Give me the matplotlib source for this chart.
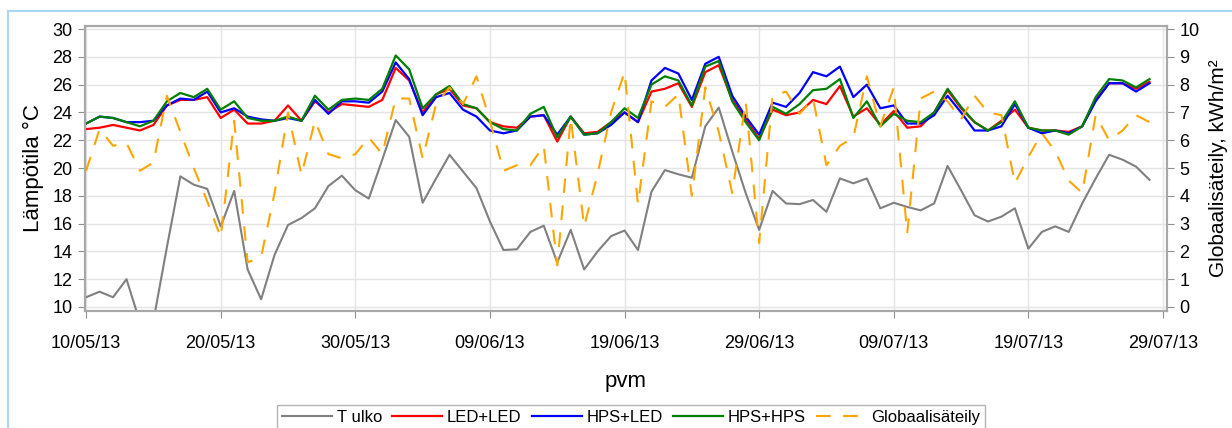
import matplotlib
matplotlib.use('Agg')
import matplotlib.pyplot as plt
import matplotlib.dates as mdates
import pandas as pd

dates = pd.date_range('2013-05-10', periods=80, freq='D')

t_ulko = [10.7, 11.1, 10.7, 12.0, 8.9, 9.0, 14.3, 19.4, 18.8, 18.5,
          15.8, 18.35, 12.7, 10.55, 13.75, 15.9, 16.4, 17.1, 18.7, 19.45,
          18.4, 17.8, 20.6, 23.45, 22.25, 17.5, 19.25, 20.95, 19.75, 18.55,
          16.15, 14.1, 14.15, 15.4, 15.85, 13.2, 15.55, 12.7, 14.0, 15.1,
          15.5, 14.1, 18.3, 19.85, 19.55, 19.3, 23.0, 24.35, 21.2, 18.2,
          15.55, 18.35, 17.45, 17.4, 17.7, 16.85, 19.25, 18.9, 19.25, 17.1,
          17.5, 17.2, 16.95, 17.45, 20.15, 18.4, 16.6, 16.15, 16.5, 17.1,
          14.2, 15.4, 15.8, 15.4, 17.45, 19.25, 20.95, 20.6, 20.1, 19.15]

led_led = [22.8, 22.9, 23.1, 22.9, 22.7, 23.1, 24.5, 24.9, 24.9, 25.1,
           23.6, 24.2, 23.2, 23.2, 23.4, 24.5, 23.4, 24.8, 24.0, 24.6,
           24.5, 24.4, 24.9, 27.2, 26.3, 24.0, 25.3, 25.7, 24.5, 24.3,
           23.3, 23.0, 22.9, 23.7, 23.8, 21.9, 23.7, 22.5, 22.6, 23.3,
           24.0, 23.3, 25.5, 25.7, 26.1, 24.4, 26.9, 27.4, 24.9, 23.5,
           22.1, 24.2, 23.8, 24.0, 24.9, 24.6, 25.9, 23.7, 24.3, 23.1,
           24.1, 22.9, 23.0, 24.0, 25.6, 24.3, 23.3, 22.7, 23.4, 24.2,
           22.9, 22.7, 22.7, 22.6, 23.0, 24.9, 26.1, 26.1, 25.7, 26.2]

hps_led = [23.2, 23.7, 23.6, 23.3, 23.3, 23.4, 24.5, 25.0, 24.9, 25.5,
           24.0, 24.3, 23.7, 23.5, 23.4, 23.6, 23.4, 24.9, 23.9, 24.8,
           24.8, 24.7, 25.5, 27.6, 26.4, 23.8, 25.1, 25.4, 24.2, 23.7,
           22.7, 22.5, 22.7, 23.7, 23.8, 22.4, 23.7, 22.4, 22.5, 23.1,
           24.0, 23.3, 26.3, 27.2, 26.8, 24.9, 27.5, 28.0, 25.2, 23.7,
           22.4, 24.7, 24.4, 25.4, 26.9, 26.6, 27.3, 25.1, 26.0, 24.3,
           24.5, 23.2, 23.2, 23.8, 25.2, 24.0, 22.7, 22.7, 23.0, 24.6,
           22.9, 22.5, 22.7, 22.5, 23.0, 24.8, 26.1, 26.1, 25.5, 26.1]

hps_hps = [23.2, 23.7, 23.6, 23.3, 23.0, 23.4, 24.8, 25.4, 25.1, 25.7,
           24.2, 24.8, 23.6, 23.4, 23.4, 23.7, 23.4, 25.2, 24.2, 24.9,
           25.0, 24.9, 25.7, 28.1, 27.1, 24.3, 25.3, 25.9, 24.6, 24.3,
           23.3, 22.8, 22.7, 23.9, 24.4, 22.2, 23.7, 22.4, 22.5, 23.3,
           24.3, 23.6, 26.0, 26.6, 26.3, 24.5, 27.3, 27.7, 24.8, 23.3,
           22.0, 24.4, 23.9, 24.6, 25.6, 25.7, 26.4, 23.6, 24.8, 23.0,
           23.9, 23.4, 23.3, 24.0, 25.7, 24.4, 23.3, 22.7, 23.3, 24.8,
           22.9, 22.7, 22.7, 22.4, 23.0, 25.1, 26.4, 26.3, 25.8, 26.4]

globaali = [4.9, 6.4, 5.8, 5.9, 4.9, 5.2, 7.6, 6.3, 5.0, 3.8,
            2.5, 6.7, 1.6, 1.8, 4.1, 7.0, 4.75, 6.7, 5.5, 5.35,
            5.5, 6.1, 5.5, 7.5, 7.5, 5.35, 7.3, 7.9, 7.3, 8.3,
            6.7, 4.9, 5.1, 5.1, 5.8, 1.5, 6.8, 2.9, 4.8, 7.0,
            8.45, 3.7, 7.4, 7.2, 7.65, 4.0, 7.9, 6.3, 4.1, 7.4,
            2.3, 7.6, 7.75, 6.95, 7.5, 5.1, 5.8, 6.1, 8.3, 6.5,
            7.9, 2.65, 7.5, 7.75, 7.4, 6.75, 7.6, 7.0, 6.9, 4.45,
            5.4, 6.25, 5.6, 4.55, 4.1, 6.9, 6.0, 6.35, 6.9, 6.65]

tick_dates = pd.date_range('2013-05-10', '2013-07-29', freq='10D')

plt.rcParams['font.family'] = ['Liberation Sans Narrow', 'Liberation Sans', 'DejaVu Sans']

fig = plt.figure(figsize=(12.32, 4.28), dpi=100)
ax = fig.add_axes([85 / 1232, 1 - 311 / 428, (1167 - 85) / 1232, (311 - 26) / 428])

ax.plot(dates, t_ulko, color='#808080', lw=1.5, label='T ulko')
ax.plot(dates, led_led, color='#ff0000', lw=1.6, label='LED+LED')
ax.plot(dates, hps_led, color='#0000ff', lw=1.6, label='HPS+LED')
ax.plot(dates, hps_hps, color='#008000', lw=1.6, label='HPS+HPS')

ax2 = ax.twinx()
ax2.plot(dates, globaali, color='#ffa500', lw=1.5, ls=(0, (7, 6)), label='Globaalisäteily')

ax.set_ylim(9.71, 30.22)
ax2.set_ylim(-0.145, 10.11)
ax.set_xlim(dates[0] - pd.Timedelta(hours=2), dates[0] + pd.Timedelta(days=80.3))

ax.set_yticks(range(10, 31, 2))
ax2.set_yticks(range(0, 11))
ax.set_xticks(tick_dates)
ax.xaxis.set_major_formatter(mdates.DateFormatter('%d/%m/%y'))

ax.grid(True, color='#e4e4e4', lw=1)
ax.set_axisbelow(True)

for a in (ax, ax2):
    for s in a.spines.values():
        s.set_color('#a8a8a8')
        s.set_linewidth(1.5)
    a.tick_params(colors='#909090', labelcolor='black', labelsize=13, length=5)

ax.tick_params(axis='x', pad=12)
ax.tick_params(axis='y', pad=4)
ax2.tick_params(axis='y', pad=4)

ax.set_ylabel('Lämpötila °C', fontsize=16, family=['Liberation Sans', 'DejaVu Sans'], labelpad=6)
ax.set_xlabel('pvm', fontsize=16, family=['Liberation Sans', 'DejaVu Sans'], labelpad=14)
ax2.set_ylabel('Globaalisäteily, kWh/m²', fontsize=15, family=['Liberation Sans', 'DejaVu Sans'],
               labelpad=7)

h1, l1 = ax.get_legend_handles_labels()
h2, l2 = ax2.get_legend_handles_labels()
leg = fig.legend(h1 + h2, l1 + l2, loc='upper center', bbox_to_anchor=(0.512, 0.074),
                 ncol=5, fontsize=12, frameon=True, fancybox=False, handlelength=3.0,
                 columnspacing=0.6, handletextpad=0.3, borderpad=0.3)
leg.get_frame().set_edgecolor('#a0a0a0')
leg.get_frame().set_linewidth(1.0)

# light blue frame of the original graphic
fig.add_artist(plt.Line2D([8 / 1232, 8 / 1232], [0, 1 - 11 / 428], color='#a8d8f0', lw=1.5))
fig.add_artist(plt.Line2D([8 / 1232, 1], [1 - 11 / 428, 1 - 11 / 428], color='#a8d8f0', lw=1.5))

fig.savefig('out.png', dpi=100)
